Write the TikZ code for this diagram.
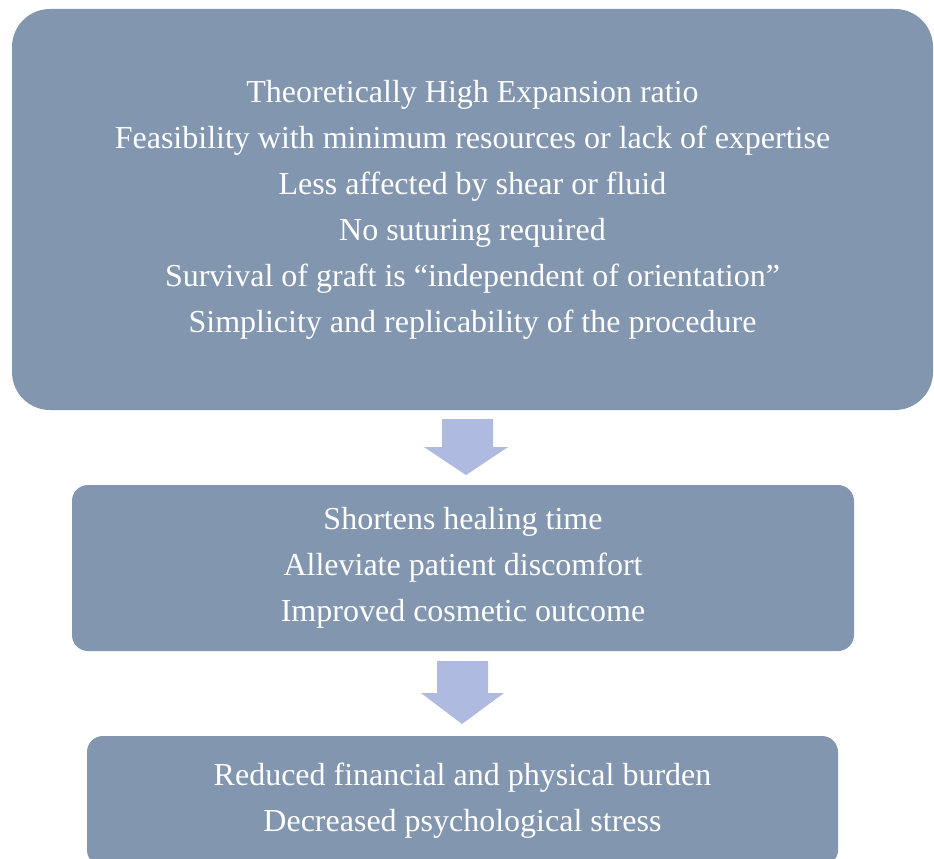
\documentclass[tikz,border=0pt]{standalone}
\usepackage{fontspec}
\setmainfont{Liberation Serif}
\definecolor{boxfill}{RGB}{130,150,176}
\definecolor{arrowfill}{RGB}{174,186,223}
\tikzset{
  flowbox/.style={fill=boxfill, draw=none, inner sep=0pt, align=center,
    text=white, font=\fontsize{32}{46}\selectfont},
  blockarrow/.style={fill=arrowfill, draw=none}
}
\begin{document}
\begin{tikzpicture}[x=1pt,y=-1pt]
\useasboundingbox (0,0) rectangle (934,859);
\clip (0,0) rectangle (934,859);
\node[flowbox, rounded corners=38pt, minimum width=921pt, minimum height=401pt] (b1) at (472.5,209.5)
  {Theoretically High Expansion ratio\\
   Feasibility with minimum resources or lack of expertise\\
   Less affected by shear or fluid\\
   No suturing required\\
   Survival of graft is \textquotedblleft independent of orientation\textquotedblright\\
   Simplicity and replicability of the procedure};
\node[flowbox, rounded corners=16pt, minimum width=782pt, minimum height=166pt] (b2) at (463,568)
  {Shortens healing time\\
   Alleviate patient discomfort\\
   Improved cosmetic outcome};
\node[flowbox, rounded corners=16pt, minimum width=751pt, minimum height=130pt] (b3) at (462.5,801)
  {Reduced financial and physical burden\\
   Decreased psychological stress};
% block arrows between the boxes
\fill[blockarrow] (442,419) -- (493,419) -- (493,447) -- (508,447) -- (466,475) -- (424,447) -- (442,447) -- cycle;
\fill[blockarrow] (437,661) -- (488,661) -- (488,693) -- (504,693) -- (462,724) -- (421,693) -- (437,693) -- cycle;
\end{tikzpicture}
\end{document}
